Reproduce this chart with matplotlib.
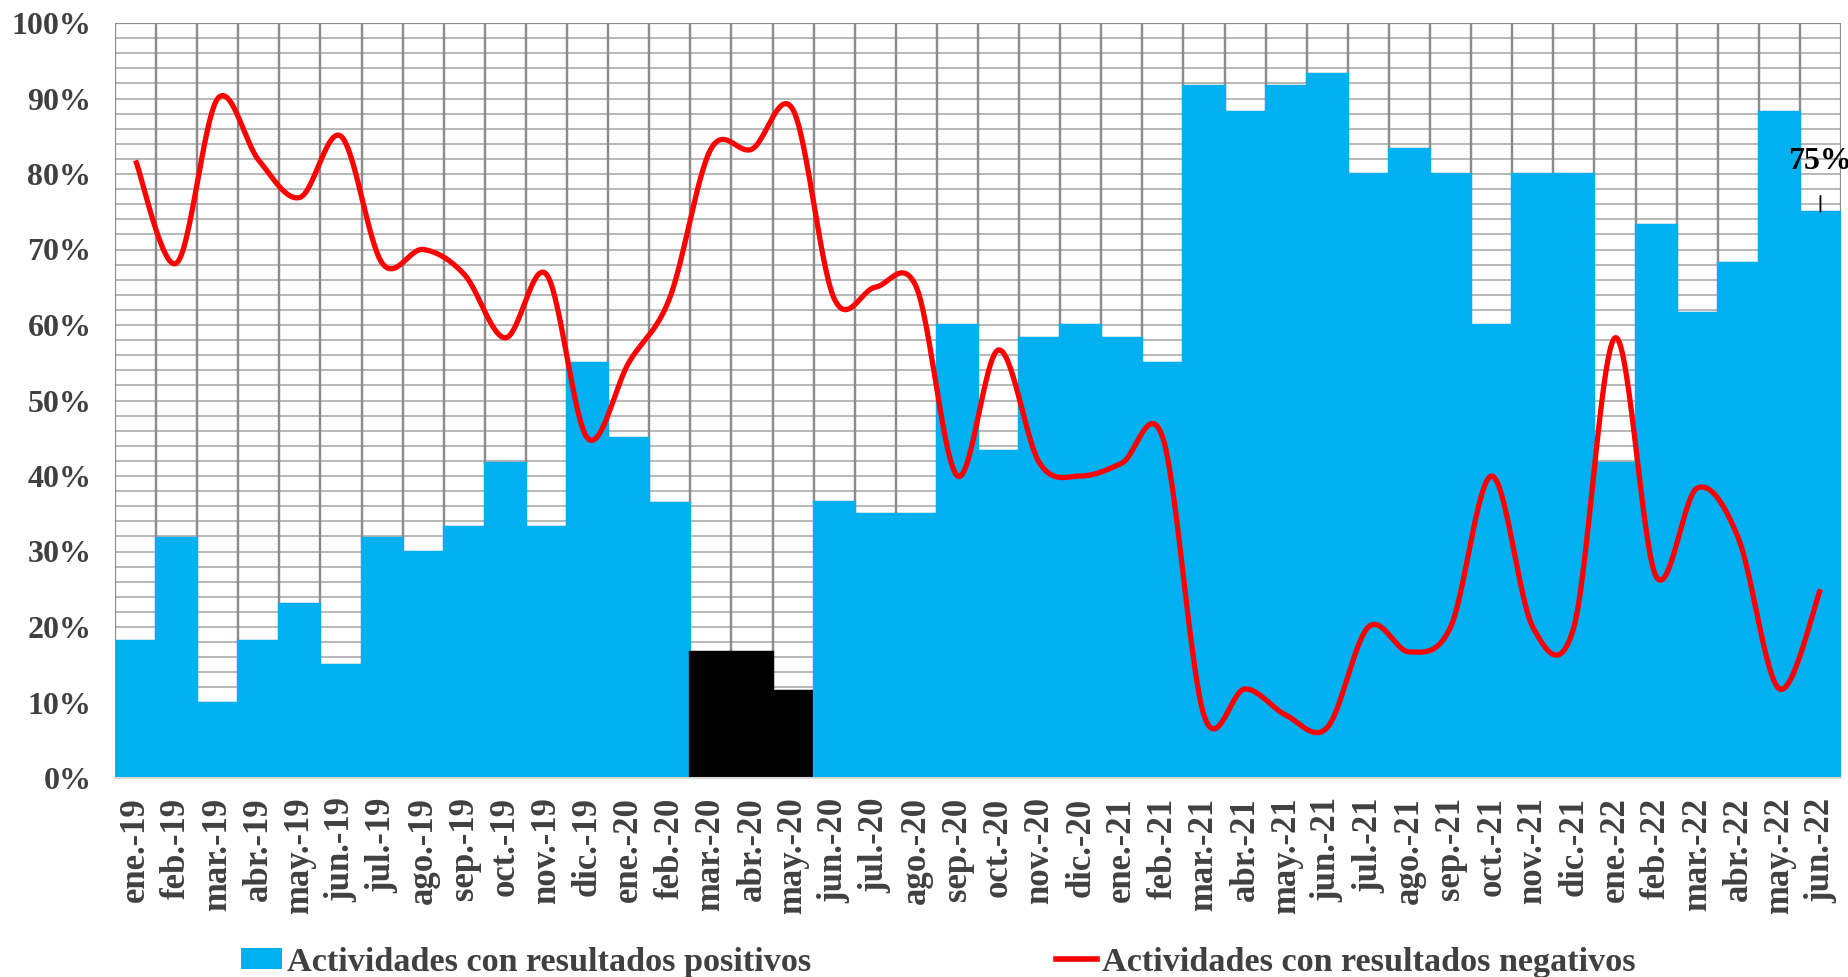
import numpy as np
import matplotlib
matplotlib.use("Agg")
import matplotlib.pyplot as plt
from matplotlib.patches import Patch
from matplotlib.lines import Line2D

months = ['ene.-19', 'feb.-19', 'mar.-19', 'abr.-19', 'may.-19', 'jun.-19',
          'jul.-19', 'ago.-19', 'sep.-19', 'oct.-19', 'nov.-19', 'dic.-19',
          'ene.-20', 'feb.-20', 'mar.-20', 'abr.-20', 'may.-20', 'jun.-20',
          'jul.-20', 'ago.-20', 'sep.-20', 'oct.-20', 'nov.-20', 'dic.-20',
          'ene.-21', 'feb.-21', 'mar.-21', 'abr.-21', 'may.-21', 'jun.-21',
          'jul.-21', 'ago.-21', 'sep.-21', 'oct.-21', 'nov.-21', 'dic.-21',
          'ene.-22', 'feb.-22', 'mar.-22', 'abr.-22', 'may.-22', 'jun.-22']

positivos = [18.2, 31.8, 10.0, 18.2, 23.1, 15.0, 31.8, 30.0, 33.3, 41.7, 33.3, 55.0,
             45.0, 36.4, 16.7, 16.7, 11.5, 36.5, 35.0, 35.0, 60.0, 43.3, 58.3, 60.0,
             58.3, 55.0, 91.7, 88.2, 91.7, 93.3, 80.0, 83.3, 80.0, 60.0, 80.0, 80.0,
             41.7, 73.3, 61.6, 68.2, 88.2, 75.0]

negativos = [81.8, 68.2, 90.0, 81.8, 76.9, 85.0, 68.2, 70.0, 66.7, 58.3, 66.7, 45.0,
             55.0, 63.6, 83.3, 83.3, 88.5, 63.5, 65.0, 65.0, 40.0, 56.7, 41.7, 40.0,
             41.7, 45.0, 8.3, 11.8, 8.3, 6.7, 20.0, 16.7, 20.0, 40.0, 20.0, 20.0,
             58.3, 26.7, 38.4, 31.8, 11.8, 25.0]

highlight_months = ['mar.-20', 'abr.-20', 'may.-20']
label_pos = 'Actividades con resultados positivos'
label_neg = 'Actividades con resultados negativos'
annot_text = '75%'

BLUE = '#00B0F0'
RED = '#FF0000'
TXT = '#404040'
FONT = 'Liberation Serif'

plt.rcParams['font.family'] = [FONT, 'DejaVu Serif']
plt.rcParams['font.weight'] = 'bold'

fig = plt.figure(figsize=(18.49, 9.77), dpi=100)
ax = fig.add_axes([115 / 1849, 1 - 778 / 977, (1841 - 115) / 1849, (778 - 23) / 977])

x = np.arange(len(months))
colors = ['black' if m in highlight_months else BLUE for m in months]

# hatch-like horizontal lines every 2 %
ax.set_ylim(0, 100)
ax.set_xlim(-0.5, len(months) - 0.5)
ax.set_yticks(np.arange(0, 101, 10))
ax.set_yticks(np.arange(0, 101, 2), minor=True)
ax.grid(True, which='both', axis='y', color='#b8b8b8', linewidth=1.4, zorder=0.5)
ax.set_axisbelow(True)

# negative portion (white cell with gray border)
ax.bar(x, negativos, bottom=positivos, width=1.0, facecolor='none',
       edgecolor='#8c8c8c', linewidth=1.6, zorder=1)
# positive portion
ax.bar(x, positivos, width=1.0, color=colors, edgecolor=colors, linewidth=1.7, zorder=2)

# smoothed red line (Excel-like Bezier smoothing)
xs = x.astype(float)
ys = np.array(negativos, dtype=float)
n = len(xs)
px, py = [], []
t = np.linspace(0, 1, 30)
for i in range(n - 1):
    p0 = np.array([xs[i], ys[i]])
    p3 = np.array([xs[i + 1], ys[i + 1]])
    pm = np.array([xs[i - 1], ys[i - 1]]) if i > 0 else p0
    pp = np.array([xs[i + 2], ys[i + 2]]) if i + 2 < n else p3
    c1 = p0 + (p3 - pm) / 6.0
    c2 = p3 - (pp - p0) / 6.0
    b = ((1 - t) ** 3)[:, None] * p0 + (3 * (1 - t) ** 2 * t)[:, None] * c1 \
        + (3 * (1 - t) * t ** 2)[:, None] * c2 + (t ** 3)[:, None] * p3
    px.extend(b[:, 0]); py.extend(b[:, 1])
ax.plot(px, py, color=RED, linewidth=3.8, zorder=3, solid_capstyle='butt')

# axes styling
for s in ['top', 'right', 'left']:
    ax.spines[s].set_visible(False)
ax.spines['bottom'].set_color('#d9d9d9')
ax.spines['bottom'].set_linewidth(1.5)
ax.spines['bottom'].set_zorder(4)

ax.set_yticklabels([f'{v}%' for v in range(0, 101, 10)], fontsize=23,
                   fontweight='bold', color=TXT)
ax.tick_params(axis='y', which='both', length=0, pad=17)
ax.set_xticks(x)
ax.set_xticklabels(months, rotation=90, fontsize=25, fontweight='bold', color=TXT)
ax.tick_params(axis='x', length=0, pad=14)

# annotation of last value
last = len(months) - 1
ax.annotate(annot_text, xy=(x[last], positivos[last]),
            xytext=(x[last], positivos[last] + 6.6),
            ha='center', va='center', fontsize=23, fontweight='bold', color='black',
            arrowprops=dict(arrowstyle='-', color='black', lw=1.3,
                            shrinkA=12, shrinkB=0), zorder=5)

handles = [Patch(facecolor=BLUE, edgecolor='none'),
           Line2D([0], [0], color=RED, linewidth=4)]
leg = fig.legend(handles, [label_pos, label_neg], loc='center left',
                 bbox_to_anchor=(241 / 1849, 1 - 962 / 977), ncol=2, frameon=False,
                 fontsize=24.6, handlelength=1.2, handleheight=0.55, handletextpad=0.15,
                 columnspacing=7.15, borderpad=0, borderaxespad=0)
for txt in leg.get_texts():
    txt.set_color(TXT)
    txt.set_fontweight('bold')

fig.savefig('out.png', dpi=100)
